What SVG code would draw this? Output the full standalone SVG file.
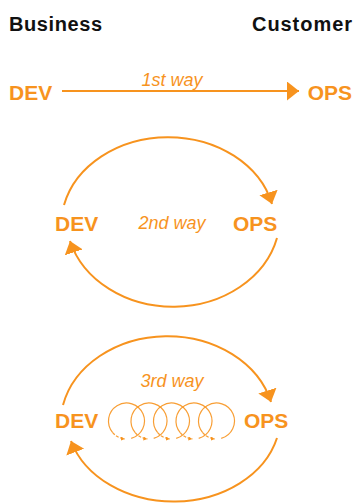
<svg xmlns="http://www.w3.org/2000/svg" width="354" height="504" viewBox="0 0 354 504">
<defs>
<style>
.hdr{font-family:"Liberation Sans",Arial,sans-serif;font-weight:bold;font-size:20px;fill:#111}
.nd{font-family:"Liberation Sans",Arial,sans-serif;font-weight:bold;font-size:21px;fill:#F7931E}
.way{font-family:"Liberation Sans",Arial,sans-serif;font-style:italic;font-size:18px;fill:#F7931E}
.big{fill:none;stroke:#F7931E;stroke-width:2}
.loop{fill:none;stroke:#F7931E;stroke-width:1.2;stroke-opacity:0.9}
.dash{fill:none;stroke:#F7931E;stroke-width:1.2;stroke-opacity:0.9;stroke-dasharray:3 1.5}
</style>
<marker id="ah" markerUnits="userSpaceOnUse" markerWidth="13" markerHeight="20" refX="12" refY="9.5" orient="auto"><path d="M0,0 L12,9.5 L0,19 z" fill="#F7931E"/></marker>
<marker id="sa" markerUnits="userSpaceOnUse" markerWidth="5" markerHeight="5" refX="4" refY="2" orient="auto"><path d="M0,0 L4,2 L0,4 z" fill="#F7931E"/></marker>
</defs>
<g id="business"><text class="hdr" x="9" y="31" textLength="93" lengthAdjust="spacing">Business</text></g>
<g id="customer"><text class="hdr" x="252" y="31" textLength="100" lengthAdjust="spacing">Customer</text></g>
<g id="dev1"><text class="nd" x="9" y="100">DEV</text></g>
<g id="ops1"><text class="nd" x="352" y="100" text-anchor="end">OPS</text></g>
<g id="dev2"><text class="nd" x="55" y="231">DEV</text></g>
<g id="ops2"><text class="nd" x="233" y="231">OPS</text></g>
<g id="dev3"><text class="nd" x="55" y="428">DEV</text></g>
<g id="ops3"><text class="nd" x="244" y="428">OPS</text></g>
<g id="connectors">
<path class="big" d="M62,91 L299,91" marker-end="url(#ah)"/>
<text class="way" x="172" y="86" text-anchor="middle">1st way</text>
<path class="big" d="M64,205 A107 88 0 0 1 272,204" marker-end="url(#ah)"/>
<path class="big" d="M277,238 A107 90 0 0 1 70,241" marker-end="url(#ah)"/>
<text class="way" x="172" y="229" text-anchor="middle">2nd way</text>
<path class="big" d="M63,405 A107 88 0 0 1 271,402" marker-end="url(#ah)"/>
<path class="big" d="M277,438 A107 85 0 0 1 71,441" marker-end="url(#ah)"/>
<text class="way" x="172" y="387" text-anchor="middle">3rd way</text>
</g>
<g id="spiral">
<g transform="translate(126.5,421)">
<path class="loop" d="M4.7,17.4 A18 18 0 1 0 -13.8,11.6"/>
<path class="dash" d="M-13.8,11.6 A18 18 0 0 0 -1.6,17.9" marker-end="url(#sa)"/>
</g>
<g transform="translate(149,421)">
<path class="loop" d="M4.7,17.4 A18 18 0 1 0 -13.8,11.6"/>
<path class="dash" d="M-13.8,11.6 A18 18 0 0 0 -1.6,17.9" marker-end="url(#sa)"/>
</g>
<g transform="translate(171.5,421)">
<path class="loop" d="M4.7,17.4 A18 18 0 1 0 -13.8,11.6"/>
<path class="dash" d="M-13.8,11.6 A18 18 0 0 0 -1.6,17.9" marker-end="url(#sa)"/>
</g>
<g transform="translate(194,421)">
<path class="loop" d="M4.7,17.4 A18 18 0 1 0 -13.8,11.6"/>
<path class="dash" d="M-13.8,11.6 A18 18 0 0 0 -1.6,17.9" marker-end="url(#sa)"/>
</g>
<g transform="translate(216.5,421)">
<path class="loop" d="M4.7,17.4 A18 18 0 1 0 -13.8,11.6"/>
<path class="dash" d="M-13.8,11.6 A18 18 0 0 0 -1.6,17.9" marker-end="url(#sa)"/>
</g>
</g>
</svg>
